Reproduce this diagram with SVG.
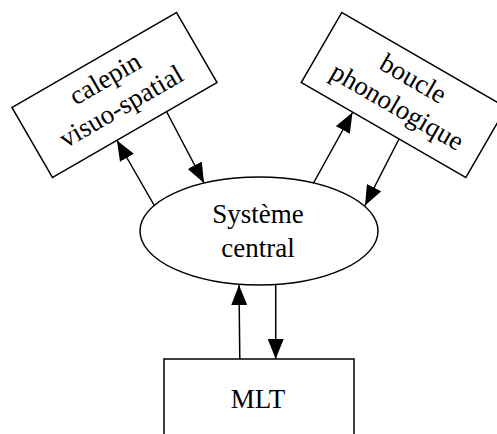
<svg xmlns="http://www.w3.org/2000/svg" width="497" height="434" viewBox="0 0 497 434">
  <style>
    .box { fill: #ffffff; stroke: #000000; stroke-width: 1.5; }
    .lbl { font-family: "Liberation Serif", "Times New Roman", serif; font-size: 27px; fill: #000000; text-anchor: middle; }
    .edge { stroke: #000000; stroke-width: 1.5; fill: none; marker-end: url(#head); }
  </style>
  <defs>
    <marker id="head" viewBox="0 0 20 16" refX="20" refY="8" markerWidth="20" markerHeight="16" markerUnits="userSpaceOnUse" orient="auto">
      <path d="M0,0 L20,8 L0,16 Z" fill="#000000"/>
    </marker>
  </defs>
  <rect width="497" height="434" fill="#ffffff"/>

  <g id="calepin" transform="translate(114.5,95) rotate(-30)">
    <rect class="box" x="-95" y="-40.5" width="190" height="81"/>
    <text class="lbl" x="0" y="-10">calepin</text>
    <text class="lbl" x="0" y="22">visuo-spatial</text>
  </g>

  <g id="boucle" transform="translate(403.8,95) rotate(30)">
    <rect class="box" x="-95" y="-40.5" width="190" height="81"/>
    <text class="lbl" x="0" y="-10">boucle</text>
    <text class="lbl" x="0" y="22">phonologique</text>
  </g>

  <g id="systeme">
    <ellipse class="box" cx="259" cy="231" rx="119" ry="54"/>
    <text class="lbl" x="258" y="223">Système</text>
    <text class="lbl" x="258" y="257">central</text>
  </g>

  <g id="mlt">
    <rect class="box" x="164" y="359" width="190" height="90"/>
    <text class="lbl" x="258" y="408">MLT</text>
  </g>

  <g id="connectors">
    <line class="edge" x1="154" y1="205" x2="117" y2="140.5"/>
    <line class="edge" x1="166.5" y1="111.5" x2="204" y2="183"/>
    <line class="edge" x1="313.5" y1="183" x2="352.5" y2="112.5"/>
    <line class="edge" x1="399" y1="139" x2="365" y2="205.5"/>
    <line class="edge" x1="239.8" y1="359" x2="239" y2="285"/>
    <line class="edge" x1="275.7" y1="285" x2="275.7" y2="359"/>
  </g>
</svg>
